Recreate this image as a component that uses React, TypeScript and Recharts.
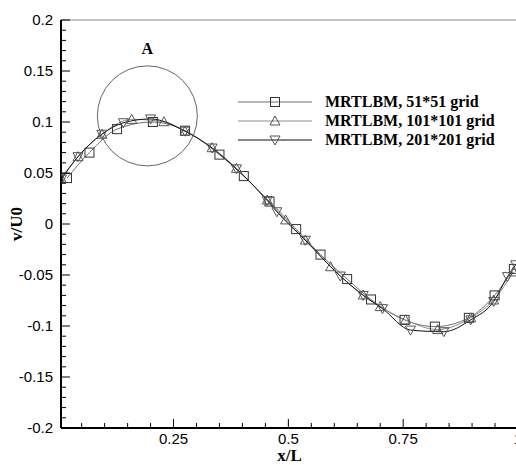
import React from "react";
import {
  LineChart,
  Line,
  XAxis,
  YAxis,
  ReferenceLine,
  ReferenceDot,
} from "recharts";

// x/L positions and v/U0 values
const x51 = [0.018, 0.067, 0.127, 0.205, 0.275, 0.35, 0.403, 0.459, 0.517, 0.57, 0.628, 0.68, 0.753, 0.819, 0.893, 0.949, 0.991];
const v51 = [0.045, 0.07, 0.093, 0.1, 0.0915, 0.068, 0.047, 0.022, -0.005, -0.03, -0.054, -0.074, -0.094, -0.1006, -0.092, -0.07, -0.044];

const x101 = [0.005, 0.042, 0.094, 0.159, 0.229, 0.275, 0.334, 0.387, 0.454, 0.494, 0.537, 0.592, 0.663, 0.7, 0.755, 0.825, 0.897, 0.947, 0.99];
const v101 = [0.045, 0.066, 0.088, 0.1026, 0.1003, 0.091, 0.0748, 0.0546, 0.0235, 0.004, -0.0157, -0.0419, -0.0696, -0.081, -0.094, -0.1035, -0.092, -0.0745, -0.047];

const x201 = [0.006, 0.042, 0.094, 0.141, 0.2, 0.275, 0.334, 0.387, 0.454, 0.475, 0.537, 0.613, 0.663, 0.705, 0.766, 0.8385, 0.897, 0.947, 0.977, 0.995];
const v201 = [0.044, 0.066, 0.088, 0.0993, 0.103, 0.091, 0.0745, 0.054, 0.023, 0.012, -0.016, -0.051, -0.07, -0.083, -0.104, -0.1056, -0.094, -0.076, -0.0516, -0.04];

const seriesNames = ["MRTLBM, 51*51 grid", "MRTLBM, 101*101 grid", "MRTLBM, 201*201 grid"];

const xMajor = [0.25, 0.5, 0.75, 1];
const xMajorLabels = ["0.25", "0.5", "0.75", "1"];
const yMajor = [-0.2, -0.15, -0.1, -0.05, 0, 0.05, 0.1, 0.15, 0.2];
const yMajorLabels = ["-0.2", "-0.15", "-0.1", "-0.05", "0", "0.05", "0.1", "0.15", "0.2"];

// minor ticks
const xTicks: number[] = [];
for (let i = 1; i <= 20; i++) xTicks.push(Math.round(i * 5) / 100);
const yTicks: number[] = [];
for (let i = -20; i <= 20; i++) yTicks.push(i / 100);

const toRows = (xs: number[], vs: number[]) => xs.map((x, i) => ({ x, v: vs[i] }));
const d51 = toRows(x51, v51);
const d101 = toRows(x101, v101);
const d201 = toRows(x201, v201);

const isMajor = (v: number, list: number[]) => list.findIndex((m) => Math.abs(m - v) < 1e-6);

const tickFont = { fontFamily: "'Liberation Sans', Arial, sans-serif", fontSize: 15, fill: "#000" };
const serifBold = "'Liberation Serif', 'Times New Roman', serif";

function XTick(props: any) {
  const { x, y, payload } = props;
  const idx = isMajor(payload.value, xMajor);
  const len = idx >= 0 ? 9 : 5;
  return (
    <g>
      <line x1={x} x2={x} y1={y} y2={y - len} stroke="#000" strokeWidth={1} />
      {idx >= 0 && (
        <text x={x} y={y + 16} textAnchor="middle" {...tickFont}>
          {xMajorLabels[idx]}
        </text>
      )}
    </g>
  );
}

function YTick(props: any) {
  const { x, y, payload } = props;
  const idx = isMajor(payload.value, yMajor);
  const len = idx >= 0 ? 9 : 5;
  return (
    <g>
      <line x1={x} x2={x + len} y1={y} y2={y} stroke="#000" strokeWidth={1} />
      {idx >= 0 && (
        <text x={x - 8} y={y + 5} textAnchor="end" {...tickFont}>
          {yMajorLabels[idx]}
        </text>
      )}
    </g>
  );
}

function Square({ cx, cy, stroke }: any) {
  return <rect x={cx - 4.5} y={cy - 4.5} width={9} height={9} fill="none" stroke={stroke} strokeWidth={1} />;
}
function TriUp({ cx, cy, stroke }: any) {
  return <polygon points={`${cx},${cy - 5} ${cx - 5},${cy + 4} ${cx + 5},${cy + 4}`} fill="none" stroke={stroke} strokeWidth={1} />;
}
function TriDown({ cx, cy, stroke }: any) {
  return <polygon points={`${cx},${cy + 5} ${cx - 5},${cy - 4} ${cx + 5},${cy - 4}`} fill="none" stroke={stroke} strokeWidth={1} />;
}

const styles = [
  { line: "#6e6e6e", mark: "#333", Marker: Square },
  { line: "#8c8c8c", mark: "#555", Marker: TriUp },
  { line: "#111", mark: "#555", Marker: TriDown },
];

function LegendBox() {
  return (
    <svg width={286} height={60} style={{ position: "absolute", left: 230, top: 92 }}>
      {seriesNames.map((name, i) => {
        const y = 10 + i * 19;
        const M = styles[i].Marker;
        return (
          <g key={name}>
            <line x1={8} x2={82} y1={y} y2={y} stroke={styles[i].line} strokeWidth={1} />
            <M cx={45} cy={y} stroke={styles[i].mark} />
            <text x={95} y={y + 5} fontFamily={serifBold} fontWeight="bold" fontSize={16} fill="#000">
              {name}
            </text>
          </g>
        );
      })}
    </svg>
  );
}

export default function App() {
  const datasets = [d51, d101, d201];
  return (
    <div style={{ position: "absolute", left: 0, top: 0, width: 516, height: 465, overflow: "hidden", background: "#fff" }}>
      <LineChart width={518} height={465} margin={{ top: 20, right: 0, bottom: 0, left: 0 }}>
        <XAxis
          type="number"
          dataKey="x"
          domain={[0.005, 1]}
          ticks={xTicks}
          allowDataOverflow
          tickLine={false}
          tickSize={0}
          tickMargin={0}
          height={37}
          axisLine={{ stroke: "#000", strokeWidth: 2 }}
          tick={<XTick />}
          interval={0}
          label={{ value: "x/L", position: "insideBottom", offset: 4, style: { fontFamily: serifBold, fontWeight: "bold", fontSize: 17, fill: "#000" } }}
        />
        <YAxis
          type="number"
          dataKey="v"
          domain={[-0.2, 0.2]}
          ticks={yTicks}
          allowDataOverflow
          tickLine={false}
          tickSize={0}
          tickMargin={0}
          width={61}
          axisLine={{ stroke: "#000", strokeWidth: 2 }}
          tick={<YTick />}
          interval={0}
          label={{ value: "v/U0", angle: -90, position: "insideLeft", offset: 16, style: { fontFamily: serifBold, fontWeight: "bold", fontSize: 17, fill: "#000", textAnchor: "middle" } }}
        />
        <ReferenceLine y={0.2} stroke="#888" strokeWidth={1} />
        <ReferenceDot x={0.193} y={0.106} r={50} fill="none" stroke="#666" strokeWidth={1} />
        <ReferenceDot
          x={0.193}
          y={0.1725}
          r={0}
          fill="none"
          stroke="none"
          label={{ value: "A", position: "center", style: { fontFamily: serifBold, fontWeight: "bold", fontSize: 16, fill: "#000" } }}
        />
        {datasets.map((d, i) => {
          const M = styles[i].Marker;
          return (
            <Line
              key={seriesNames[i]}
              data={d}
              dataKey="v"
              name={seriesNames[i]}
              type="monotone"
              stroke={styles[i].line}
              strokeWidth={1}
              isAnimationActive={false}
              dot={(p: any) => <M key={`${i}-${p.index}`} cx={p.cx} cy={p.cy} stroke={styles[i].mark} />}
              activeDot={false}
            />
          );
        })}
      </LineChart>
      <LegendBox />
    </div>
  );
}
